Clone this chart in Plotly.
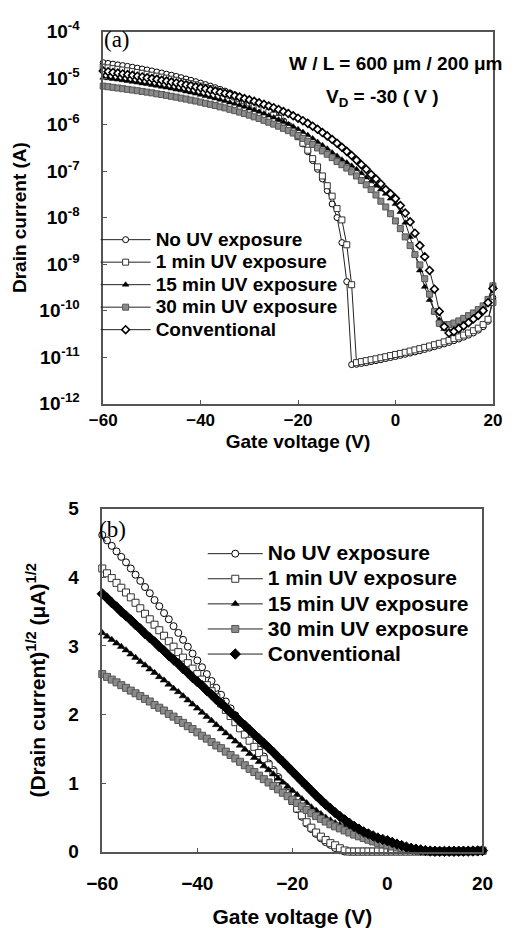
import plotly.graph_objects as go

# Gate voltage sweep (V), 1 V steps
gate_voltage = [-60, -59, -58, -57, -56, -55, -54, -53, -52, -51, -50, -49, -48, -47, -46, -45,
                -44, -43, -42, -41, -40, -39, -38, -37, -36, -35, -34, -33, -32, -31, -30, -29,
                -28, -27, -26, -25, -24, -23, -22, -21, -20, -19, -18, -17, -16, -15, -14, -13,
                -12, -11, -10, -9, -8, -7, -6, -5, -4, -3, -2, -1, 0, 1, 2, 3, 4, 5, 6, 7, 8, 9,
                10, 11, 12, 13, 14, 15, 16, 17, 18, 19, 20]

# Drain current (A)
no_uv = [2.134e-5, 2.061e-5, 1.989e-5, 1.918e-5, 1.849e-5, 1.781e-5, 1.706e-5, 1.632e-5,
         1.560e-5, 1.490e-5, 1.421e-5, 1.347e-5, 1.282e-5, 1.211e-5, 1.149e-5, 1.082e-5,
         1.018e-5, 9.55e-6, 8.94e-6, 8.35e-6, 7.78e-6, 7.24e-6, 6.71e-6, 6.20e-6, 5.71e-6,
         5.24e-6, 4.80e-6, 4.37e-6, 3.96e-6, 3.57e-6, 3.20e-6, 2.86e-6, 2.53e-6, 2.22e-6,
         1.93e-6, 1.66e-6, 1.42e-6, 1.19e-6, 9.60e-7, 7.40e-7, 5.48e-7, 3.84e-7, 2.60e-7,
         1.68e-7, 1.09e-7, 6.76e-8, 3.80e-8, 1.96e-8, 1.00e-8, 2.9e-9, 4.2e-10, 6.9e-12,
         7.0e-12, 7.3e-12, 7.6e-12, 8.0e-12, 8.4e-12, 8.8e-12, 9.3e-12, 9.8e-12, 1.03e-11,
         1.09e-11, 1.15e-11, 1.22e-11, 1.29e-11, 1.37e-11, 1.46e-11, 1.56e-11, 1.67e-11,
         1.79e-11, 1.92e-11, 2.07e-11, 2.25e-11, 2.45e-11, 2.68e-11, 2.97e-11, 3.30e-11,
         3.80e-11, 4.50e-11, 5.90e-11, 1.90e-10]

one_min_uv = [1.706e-5, 1.648e-5, 1.592e-5, 1.537e-5, 1.482e-5, 1.429e-5, 1.376e-5, 1.318e-5,
              1.260e-5, 1.204e-5, 1.149e-5, 1.096e-5, 1.043e-5, 9.92e-6, 9.42e-6, 8.94e-6,
              8.47e-6, 8.01e-6, 7.56e-6, 7.13e-6, 6.71e-6, 6.30e-6, 5.90e-6, 5.48e-6, 5.06e-6,
              4.67e-6, 4.28e-6, 3.92e-6, 3.57e-6, 3.24e-6, 2.92e-6, 2.62e-6, 2.34e-6, 2.07e-6,
              1.82e-6, 1.59e-6, 1.35e-6, 1.12e-6, 9.22e-7, 7.23e-7, 5.48e-7, 3.97e-7, 2.81e-7,
              1.85e-7, 1.23e-7, 7.84e-8, 4.84e-8, 2.89e-8, 1.56e-8, 8.9e-9, 2.6e-9, 3.6e-10,
              7.6e-12, 8.0e-12, 8.4e-12, 8.8e-12, 9.2e-12, 9.7e-12, 1.02e-11, 1.08e-11,
              1.14e-11, 1.20e-11, 1.27e-11, 1.35e-11, 1.43e-11, 1.52e-11, 1.62e-11, 1.73e-11,
              1.85e-11, 1.98e-11, 2.13e-11, 2.30e-11, 2.50e-11, 2.72e-11, 2.98e-11, 3.30e-11,
              3.70e-11, 4.20e-11, 5.00e-11, 6.50e-11, 1.50e-10]

fifteen_min_uv = [1.018e-5, 9.86e-6, 9.55e-6, 9.24e-6, 8.94e-6, 8.64e-6, 8.29e-6, 8.01e-6,
                  7.67e-6, 7.40e-6, 7.08e-6, 6.81e-6, 6.50e-6, 6.25e-6, 5.95e-6, 5.66e-6,
                  5.43e-6, 5.15e-6, 4.88e-6, 4.62e-6, 4.37e-6, 4.12e-6, 3.88e-6, 3.65e-6,
                  3.42e-6, 3.20e-6, 2.99e-6, 2.79e-6, 2.59e-6, 2.40e-6, 2.22e-6, 2.04e-6,
                  1.88e-6, 1.72e-6, 1.56e-6, 1.42e-6, 1.28e-6, 1.14e-6, 1.02e-6, 9.03e-7,
                  7.92e-7, 6.89e-7, 5.93e-7, 5.04e-7, 4.23e-7, 3.60e-7, 3.03e-7, 2.50e-7,
                  2.12e-7, 1.76e-7, 1.52e-7, 1.30e-7, 1.09e-7, 9.00e-8, 7.29e-8, 6.00e-8,
                  4.84e-8, 4.00e-8, 3.24e-8, 2.56e-8, 1.96e-8, 1.32e-8, 7.74e-9, 3.84e-9,
                  1.60e-9, 7.3e-10, 3.24e-10, 1.69e-10, 9.6e-11, 6.3e-11, 4.0e-11, 3.55e-11,
                  4.0e-11, 4.7e-11, 5.5e-11, 6.5e-11, 7.8e-11, 9.3e-11, 1.17e-10, 1.66e-10,
                  3.55e-10]

thirty_min_uv = [6.71e-6, 6.50e-6, 6.30e-6, 6.10e-6, 5.90e-6, 5.71e-6, 5.52e-6, 5.34e-6,
                 5.15e-6, 4.97e-6, 4.80e-6, 4.58e-6, 4.41e-6, 4.24e-6, 4.04e-6, 3.88e-6,
                 3.69e-6, 3.53e-6, 3.35e-6, 3.20e-6, 3.03e-6, 2.86e-6, 2.72e-6, 2.56e-6,
                 2.40e-6, 2.28e-6, 2.13e-6, 1.99e-6, 1.85e-6, 1.72e-6, 1.59e-6, 1.46e-6,
                 1.35e-6, 1.23e-6, 1.12e-6, 1.02e-6, 9.22e-7, 8.28e-7, 7.40e-7, 6.56e-7,
                 5.78e-7, 5.04e-7, 4.36e-7, 3.72e-7, 3.14e-7, 2.70e-7, 2.30e-7, 1.94e-7,
                 1.60e-7, 1.37e-7, 1.16e-7, 9.61e-8, 7.84e-8, 6.25e-8, 5.06e-8, 4.00e-8,
                 3.06e-8, 2.25e-8, 1.69e-8, 1.21e-8, 8.46e-9, 5.78e-9, 3.84e-9, 2.50e-9,
                 1.60e-9, 9.6e-10, 4.84e-10, 2.25e-10, 9.6e-11, 5.33e-11, 5.0e-11, 5.0e-11,
                 5.4e-11, 6.0e-11, 6.8e-11, 7.8e-11, 8.9e-11, 1.05e-10, 1.26e-10, 1.74e-10,
                 3.40e-10]

conventional = [1.414e-5, 1.369e-5, 1.318e-5, 1.274e-5, 1.225e-5, 1.183e-5, 1.142e-5, 1.096e-5,
                1.056e-5, 1.011e-5, 9.73e-6, 9.36e-6, 8.94e-6, 8.58e-6, 8.18e-6, 7.84e-6,
                7.51e-6, 7.13e-6, 6.81e-6, 6.45e-6, 6.15e-6, 5.86e-6, 5.52e-6, 5.24e-6,
                4.93e-6, 4.67e-6, 4.41e-6, 4.12e-6, 3.88e-6, 3.61e-6, 3.39e-6, 3.15e-6,
                2.92e-6, 2.71e-6, 2.50e-6, 2.30e-6, 2.10e-6, 1.90e-6, 1.72e-6, 1.54e-6,
                1.37e-6, 1.21e-6, 1.06e-6, 9.22e-7, 7.92e-7, 6.72e-7, 5.70e-7, 4.76e-7,
                3.97e-7, 3.25e-7, 2.65e-7, 2.16e-7, 1.72e-7, 1.37e-7, 1.09e-7, 8.41e-8,
                6.76e-8, 5.29e-8, 4.00e-8, 3.24e-8, 2.56e-8, 1.82e-8, 1.25e-8, 8.10e-9,
                4.62e-9, 2.50e-9, 1.44e-9, 7.3e-10, 2.89e-10, 9.6e-11, 4.5e-11, 3.3e-11,
                3.55e-11, 4.1e-11, 4.7e-11, 5.5e-11, 6.6e-11, 7.9e-11, 1.0e-10, 1.48e-10,
                3.0e-10]

series_names = ["No UV exposure", "1 min UV exposure", "15 min UV exposure",
                "30 min UV exposure", "Conventional"]
series_data = [no_uv, one_min_uv, fifteen_min_uv, thirty_min_uv, conventional]

log_tick_vals = [1e-12, 1e-11, 1e-10, 1e-9, 1e-8, 1e-7, 1e-6, 1e-5, 1e-4]
log_tick_text = ["10<sup>-12</sup>", "10<sup>-11</sup>", "10<sup>-10</sup>", "10<sup>-9</sup>",
                 "10<sup>-8</sup>", "10<sup>-7</sup>", "10<sup>-6</sup>", "10<sup>-5</sup>",
                 "10<sup>-4</sup>"]
x_tick_vals = [-60, -40, -20, 0, 20]
sqrt_tick_vals = [0, 1, 2, 3, 4, 5]

W, H = 520, 928
FONT = "Liberation Sans"

markers_top = [
    dict(symbol="circle", size=6, color="white", line=dict(color="black", width=1)),
    dict(symbol="square", size=6, color="white", line=dict(color="#333333", width=1)),
    dict(symbol="triangle-up", size=6, color="black", line=dict(color="black", width=0.5)),
    dict(symbol="square", size=6, color="#8a8a8a", line=dict(color="#555555", width=1)),
    dict(symbol="diamond", size=6, color="white", line=dict(color="black", width=1.6)),
]
markers_bot = [
    dict(symbol="circle", size=7, color="white", line=dict(color="black", width=1)),
    dict(symbol="square", size=7, color="white", line=dict(color="#333333", width=1)),
    dict(symbol="triangle-up", size=7, color="black", line=dict(color="black", width=0.5)),
    dict(symbol="square", size=7, color="#8a8a8a", line=dict(color="#555555", width=1)),
    dict(symbol="diamond", size=8, color="black", line=dict(color="black", width=1)),
]

fig = go.Figure()
for name, cur, mt in zip(series_names, series_data, markers_top):
    fig.add_trace(go.Scatter(
        x=gate_voltage, y=cur, mode="lines+markers",
        name="<span style='font-size:19px'>" + name + "</span>",
        xaxis="x", yaxis="y", legend="legend",
        line=dict(color="#222222", width=1), marker=mt, cliponaxis=False))

for name, cur, mb in zip(series_names, series_data, markers_bot):
    sqrt_ua = [(c * 1e6) ** 0.5 for c in cur]
    fig.add_trace(go.Scatter(
        x=gate_voltage, y=sqrt_ua, mode="lines+markers",
        name="<span style='font-size:21px'>" + name + "</span>",
        xaxis="x2", yaxis="y2", legend="legend2",
        line=dict(color="#222222", width=1), marker=mb, cliponaxis=False))

axis_common = dict(showline=True, mirror=True, linecolor="#555555", linewidth=1.5,
                   showgrid=False, zeroline=False, ticks="inside", ticklen=4,
                   tickcolor="#555555", tickwidth=1)

fig.update_layout(
    width=W, height=H, margin=dict(l=0, r=0, t=0, b=0),
    paper_bgcolor="white", plot_bgcolor="white",
    font=dict(family=FONT, color="black"),
    xaxis=dict(domain=[92 / W, 503 / W], range=[-60, 20], anchor="y",
               tickvals=x_tick_vals, tickfont=dict(size=17, weight="bold"),
               title=dict(text="Gate voltage (V)", font=dict(size=19, weight="bold"), standoff=6),
               **axis_common),
    yaxis=dict(domain=[1 - 401 / H, 1 - 19 / H], type="log", range=[-12, -4], anchor="x",
               tickvals=log_tick_vals, ticktext=log_tick_text, ticklabelstandoff=18,
               tickfont=dict(size=19, weight="bold"),
               title=dict(text="Drain current (A)", font=dict(size=19, weight="bold"), standoff=8),
               **axis_common),
    xaxis2=dict(domain=[91 / W, 492 / W], range=[-60, 20], anchor="y2",
                tickvals=x_tick_vals, tickfont=dict(size=19, weight="bold"),
                ticklabelstandoff=14,
                title=dict(text="Gate voltage (V)", font=dict(size=21, weight="bold"), standoff=18),
                **axis_common),
    yaxis2=dict(domain=[1 - 861 / H, 1 - 509 / H], range=[0, 5], anchor="x2",
                tickvals=sqrt_tick_vals, tickfont=dict(size=19, weight="bold"),
                ticklabelstandoff=18,
                title=dict(text="(Drain current)<sup>1/2</sup> (μA)<sup>1/2</sup>",
                           font=dict(size=21, weight="bold"), standoff=17),
                **axis_common),
    legend=dict(x=84 / W, xanchor="left", y=1 - 216 / H, yanchor="top",
                bgcolor="rgba(0,0,0,0)", borderwidth=0, itemwidth=50,
                font=dict(family=FONT, size=15, weight="bold", color="black"),
                tracegroupgap=0),
    legend2=dict(x=197 / W, xanchor="left", y=1 - 537 / H, yanchor="top",
                 bgcolor="rgba(0,0,0,0)", borderwidth=0, itemwidth=55,
                 font=dict(family=FONT, size=17, weight="bold", color="black"),
                 tracegroupgap=0),
    annotations=[
        dict(text="(a)", x=91 / W, y=1 - 27 / H, xref="paper", yref="paper",
             xanchor="left", yanchor="middle", showarrow=False,
             font=dict(family="Liberation Serif", size=23, color="black")),
        dict(text="(b)", x=85 / W, y=1 - 530 / H, xref="paper", yref="paper",
             xanchor="left", yanchor="middle", showarrow=False,
             font=dict(family="Liberation Serif", size=23, color="black")),
        dict(text="W / L = 600 μm / 200 μm", x=516 / W, y=1 - 52 / H, xref="paper",
             yref="paper", xanchor="right", yanchor="middle", showarrow=False,
             font=dict(size=19, weight="bold", color="black")),
        dict(text="V<sub>D</sub> = -30 ( V )", x=387 / W, y=1 - 87 / H, xref="paper",
             yref="paper", xanchor="center", yanchor="middle", showarrow=False,
             font=dict(size=19, weight="bold", color="black")),
    ],
)

fig.write_html("out.html")
